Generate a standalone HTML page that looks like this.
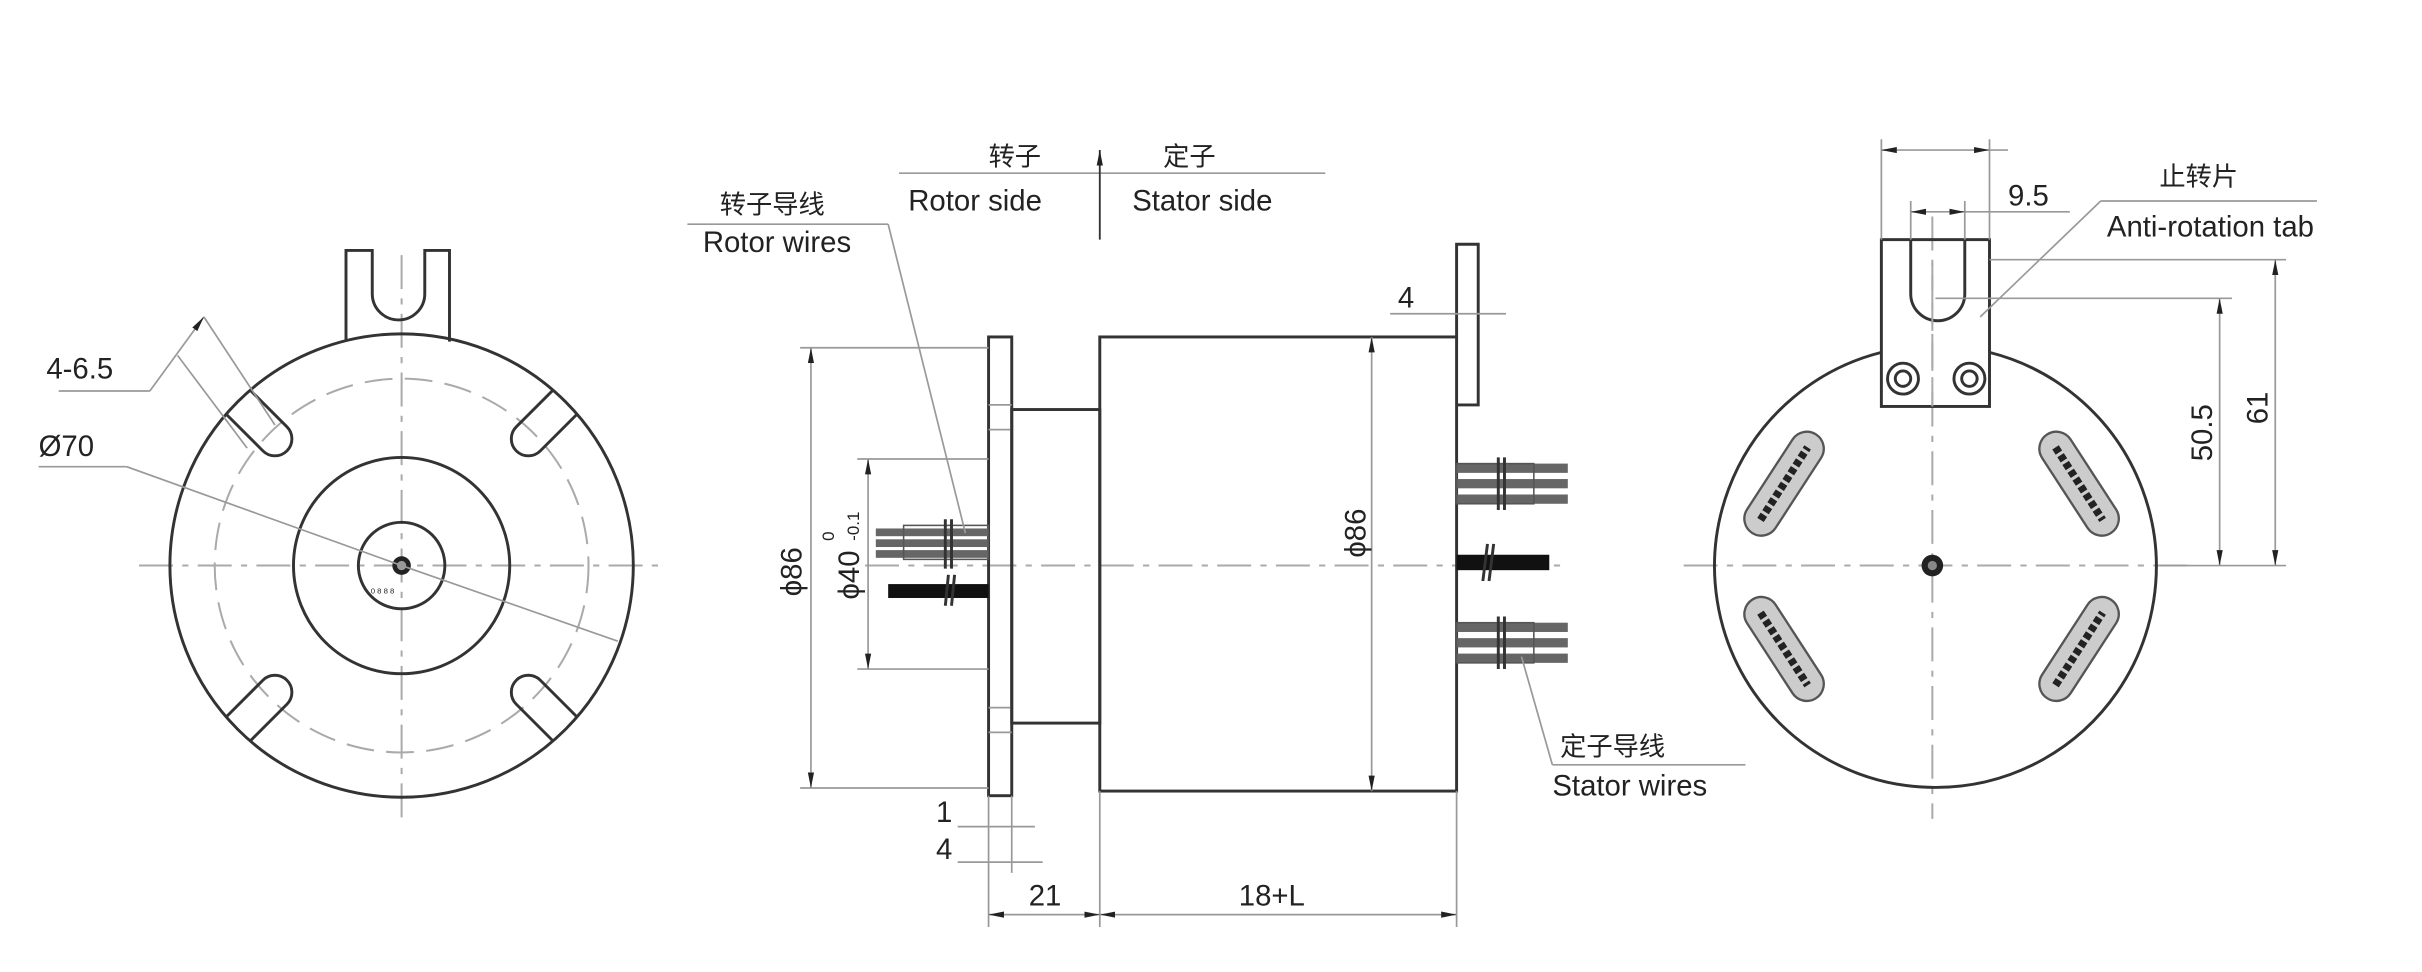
<!DOCTYPE html>
<html><head><meta charset="utf-8"><style>
html,body{margin:0;padding:0;background:#fff;}
svg{display:block;}
text{font-family:"Liberation Sans","Noto Sans CJK SC",sans-serif;fill:#222;}
.k{stroke:#333;stroke-width:1.9;fill:none;}
.t{stroke:#999;stroke-width:1.1;fill:none;}
.c{stroke:#aaa;stroke-width:1.3;fill:none;stroke-dasharray:22 6 4 6;}
.d{stroke:#aaa;stroke-width:1.3;fill:none;stroke-dasharray:18 8;}
</style></head><body>
<svg width="2422" height="972" viewBox="0 0 1568 629" xmlns="http://www.w3.org/2000/svg">
<defs>
<marker id="a" markerWidth="10" markerHeight="6" refX="10" refY="3" orient="auto-start-reverse" markerUnits="userSpaceOnUse"><path d="M0,1 L10,3 L0,5z" fill="#222"/></marker>
</defs>
<rect width="1568" height="629" fill="#fff"/>

<!-- LEFT VIEW -->
<g>
<line class="c" x1="90" y1="366" x2="430" y2="366"/>
<line class="c" x1="260" y1="165" x2="260" y2="530"/>
<circle class="k" cx="260" cy="366" r="150"/>
<circle class="d" cx="260" cy="366" r="121"/>
<circle class="k" cx="260" cy="366" r="70"/>
<circle class="k" cx="260" cy="366" r="28"/>
<circle cx="260" cy="366" r="6" fill="#222"/>
<circle cx="260" cy="366" r="3" fill="#999"/>
<text x="240" y="384" font-size="5" fill="#444">0 8 8 8</text>
<path class="k" d="M224,221 V162 H241 V190 A17,17 0 0 0 275,190 V162 H291 V221"/>
<!-- notches -->
<g transform="rotate(-45 260 366)"><path class="k" d="M249,216 V250 A11,11 0 0 0 271,250 V216" fill="#fff"/></g>
<g transform="rotate(45 260 366)"><path class="k" d="M249,216 V250 A11,11 0 0 0 271,250 V216" fill="#fff"/></g>
<g transform="rotate(135 260 366)"><path class="k" d="M249,216 V250 A11,11 0 0 0 271,250 V216" fill="#fff"/></g>
<g transform="rotate(-135 260 366)"><path class="k" d="M249,216 V250 A11,11 0 0 0 271,250 V216" fill="#fff"/></g>
<!-- leaders -->
<line class="t" x1="38" y1="253" x2="97" y2="253"/>
<line class="t" x1="97" y1="253" x2="132" y2="205" marker-end="url(#a)"/>
<line class="t" x1="132" y1="205" x2="178" y2="275"/>
<line class="t" x1="115" y1="230" x2="160" y2="290"/>
<text x="30" y="245" font-size="19">4-6.5</text>
<line class="t" x1="25" y1="302" x2="82" y2="302"/>
<line class="t" x1="82" y1="302" x2="260" y2="366"/>
<line class="t" x1="260" y1="366" x2="400" y2="415"/>
<text x="25" y="295" font-size="19">Ø70</text>
</g>

<!-- MIDDLE VIEW -->
<g>
<line class="c" x1="560" y1="366" x2="1010" y2="366"/>
<rect class="k" x="640" y="218" width="15" height="297"/>
<path class="t" d="M640,262 H655 M640,278 H655 M640,458 H655 M640,474 H655"/>
<rect class="k" x="655" y="265" width="57" height="203"/>
<rect class="k" x="712" y="218" width="231" height="294"/>
<path class="k" d="M943,218 V158 H957 V262 H943"/>
<g fill="#666">
<rect x="943" y="300" width="72" height="6"/><rect x="943" y="310" width="72" height="6"/><rect x="943" y="320" width="72" height="6"/>
<rect x="943" y="403" width="72" height="6"/><rect x="943" y="413" width="72" height="6"/><rect x="943" y="423" width="72" height="6"/>
</g>
<rect x="943" y="300" width="50" height="26" fill="none" stroke="#555"/>
<rect x="943" y="403" width="50" height="26" fill="none" stroke="#555"/>
<rect x="943" y="359" width="60" height="10" fill="#111"/>
<path class="k" d="M970,296 V330 M974,296 V330 M970,399 V433 M974,399 V433 M963,352 L960,376 M967,352 L964,376" stroke-width="1"/>
<g fill="#666">
<rect x="567" y="342" width="73" height="5"/><rect x="567" y="349" width="73" height="5"/><rect x="567" y="356" width="73" height="5"/>
</g>
<rect x="585" y="340" width="55" height="22" fill="none" stroke="#555"/>
<rect x="575" y="378" width="65" height="9" fill="#111"/>
<path class="k" d="M612,336 V368 M616,336 V368 M614,372 L612,392 M618,372 L616,392" stroke-width="1"/>
<path class="t" d="M518,225 H640 M518,510 H640"/>
<line class="t" x1="525" y1="225" x2="525" y2="510" marker-start="url(#a)" marker-end="url(#a)"/>
<text transform="translate(519,370) rotate(-90)" font-size="19" text-anchor="middle">ϕ86</text>
<path class="t" d="M555,297 H640 M555,433 H640"/>
<line class="t" x1="562" y1="297" x2="562" y2="433" marker-start="url(#a)" marker-end="url(#a)"/>
<text transform="translate(556,388) rotate(-90)" font-size="19">ϕ40</text>
<text transform="translate(540,350) rotate(-90)" font-size="11">0</text>
<text transform="translate(556,350) rotate(-90)" font-size="11">-0.1</text>
<line class="t" x1="888" y1="218" x2="888" y2="512" marker-start="url(#a)" marker-end="url(#a)"/>
<text transform="translate(884,345) rotate(-90)" font-size="19" text-anchor="middle">ϕ86</text>
<line class="t" x1="900" y1="203" x2="975" y2="203"/>
<text x="905" y="199" font-size="19">4</text>
<path class="t" d="M640,515 V600 M655,515 V565 M712,512 V600 M943,512 V600"/>
<line class="t" x1="620" y1="535" x2="670" y2="535"/>
<line class="t" x1="620" y1="558" x2="675" y2="558"/>
<text x="606" y="532" font-size="19">1</text>
<text x="606" y="556" font-size="19">4</text>
<line class="t" x1="640" y1="592" x2="712" y2="592" marker-start="url(#a)" marker-end="url(#a)"/>
<line class="t" x1="712" y1="592" x2="943" y2="592" marker-start="url(#a)" marker-end="url(#a)"/>
<text x="666" y="586" font-size="19">21</text>
<text x="802" y="586" font-size="19">18+L</text>
<line class="t" x1="582" y1="112" x2="858" y2="112"/>
<line x1="712" y1="155" x2="712" y2="97" stroke="#333" stroke-width="1.2" marker-end="url(#a)"/>
<text x="640" y="107" font-size="17">转子</text>
<text x="753" y="107" font-size="17">定子</text>
<text x="588" y="136" font-size="19">Rotor side</text>
<text x="733" y="136" font-size="19">Stator  side</text>
<text x="466" y="138" font-size="17">转子导线</text>
<text x="455" y="163" font-size="19">Rotor wires</text>
<line class="t" x1="445" y1="145" x2="575" y2="145"/>
<line class="t" x1="575" y1="145" x2="625" y2="345"/>
<text x="1010" y="489" font-size="17">定子导线</text>
<text x="1005" y="515" font-size="19">Stator wires</text>
<line class="t" x1="1005" y1="495" x2="1130" y2="495"/>
<line class="t" x1="1005" y1="495" x2="985" y2="425"/>
</g>

<!-- RIGHT VIEW -->
<g>
<line class="c" x1="1090" y1="366" x2="1420" y2="366"/>
<line class="c" x1="1251" y1="140" x2="1251" y2="530"/>
<path class="k" d="M1218,228 A143,143 0 1 0 1288,228" stroke-width="1.5"/>
<rect class="k" x="1218" y="155" width="70" height="108" fill="#fff"/>
<path class="k" d="M1237,155 V190 A17,17 0 0 0 1272,190 V155" stroke-width="1.5"/>
<line class="d" x1="1251" y1="170" x2="1251" y2="263"/>
<circle class="k" cx="1232" cy="245" r="10" stroke-width="1"/><circle class="k" cx="1232" cy="245" r="5" stroke-width="1"/>
<circle class="k" cx="1275" cy="245" r="10" stroke-width="1"/><circle class="k" cx="1275" cy="245" r="5" stroke-width="1"/>
<circle cx="1251" cy="366" r="7" fill="#222"/><circle cx="1251" cy="366" r="3" fill="#888"/>
<g fill="#ccc" stroke="#555" stroke-width="1.5">
<rect x="-38" y="-11" width="76" height="22" rx="11" transform="translate(1155,313) rotate(-57)"/>
<rect x="-38" y="-11" width="76" height="22" rx="11" transform="translate(1346,313) rotate(57)"/>
<rect x="-38" y="-11" width="76" height="22" rx="11" transform="translate(1155,420) rotate(57)"/>
<rect x="-38" y="-11" width="76" height="22" rx="11" transform="translate(1346,420) rotate(-57)"/>
</g>
<g stroke="#222" fill="none" stroke-dasharray="4 2">
<line x1="-28" y1="0" x2="28" y2="0" transform="translate(1155,313) rotate(-57)" stroke-width="5"/>
<line x1="-28" y1="0" x2="28" y2="0" transform="translate(1346,313) rotate(57)" stroke-width="5"/>
<line x1="-28" y1="0" x2="28" y2="0" transform="translate(1155,420) rotate(57)" stroke-width="5"/>
<line x1="-28" y1="0" x2="28" y2="0" transform="translate(1346,420) rotate(-57)" stroke-width="5"/>
</g>
<path class="t" d="M1218,155 V90 M1288,155 V90 M1237,155 V130 M1272,155 V130"/>
<line class="t" x1="1218" y1="97" x2="1288" y2="97" marker-start="url(#a)" marker-end="url(#a)"/>
<line class="t" x1="1288" y1="97" x2="1300" y2="97"/>
<line class="t" x1="1237" y1="137" x2="1272" y2="137" marker-start="url(#a)" marker-end="url(#a)"/>
<line class="t" x1="1272" y1="137" x2="1340" y2="137"/>
<text x="1300" y="133" font-size="19">9.5</text>
<text x="1398" y="120" font-size="17" fill="#888">止转片</text>
<text x="1364" y="153" font-size="19">Anti-rotation tab</text>
<line class="t" x1="1360" y1="130" x2="1500" y2="130"/>
<line class="t" x1="1360" y1="130" x2="1282" y2="205"/>
<path class="t" d="M1288,168 H1480 M1253,193 H1445 M1398,366 H1480"/>
<line class="t" x1="1437" y1="193" x2="1437" y2="366" marker-start="url(#a)" marker-end="url(#a)"/>
<line class="t" x1="1473" y1="168" x2="1473" y2="366" marker-start="url(#a)" marker-end="url(#a)"/>
<text transform="translate(1432,280) rotate(-90)" font-size="19" text-anchor="middle">50.5</text>
<text transform="translate(1468,264) rotate(-90)" font-size="19" text-anchor="middle">61</text>
</g>
</svg>
</body></html>
